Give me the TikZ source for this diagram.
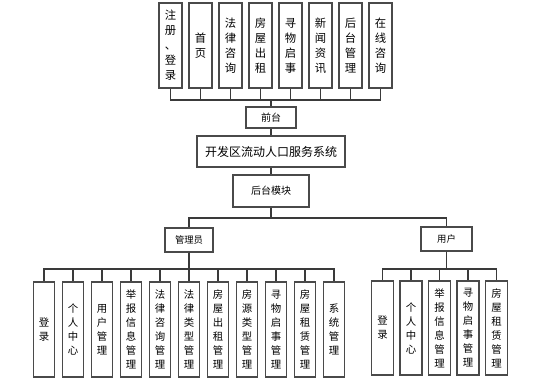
\documentclass[tikz,border=0pt]{standalone}
\usepackage{fontspec}
\setmainfont{Noto Sans CJK SC}
\definecolor{boxEdge}{HTML}{4A4A4A}
\definecolor{lineGray}{HTML}{3A3A3A}
\tikzset{
  topcol/.style={rectangle,draw=boxEdge,fill=white,line width=0.9pt,inner sep=0pt,
    minimum width=17.25pt,minimum height=63.75pt,align=center,font=\fontsize{8.5}{11.25}\selectfont},
  mgrcol/.style={rectangle,draw=boxEdge,fill=white,line width=0.9pt,inner sep=0pt,
    minimum width=15.75pt,minimum height=71.25pt,align=center,font=\fontsize{7.8}{10.5}\selectfont},
  usercol/.style={mgrcol,minimum width=16.5pt,minimum height=70.5pt},
  midbox/.style={rectangle,draw=boxEdge,fill=white,line width=0.9pt,inner sep=0pt,
    align=center,font=\fontsize{7.5}{9}\selectfont},
  link/.style={draw=lineGray,line width=0.8pt}
}

\begin{document}
\begin{tikzpicture}[x=0.75pt,y=-0.75pt]
  \useasboundingbox (0,0) rectangle (553,380);
  % front end pages
  \node[topcol] (reg) at (170.5,45.5) {注\\册\\、\\登\\录};
  \node[topcol] (home) at (200.5,45.5) {首\\页};
  \node[topcol] (law) at (230.5,45.5) {法\\律\\咨\\询};
  \node[topcol] (rent) at (260.5,45.5) {房\\屋\\出\\租};
  \node[topcol] (lost) at (290.5,45.5) {寻\\物\\启\\事};
  \node[topcol] (news) at (320.5,45.5) {新\\闻\\资\\讯};
  \node[topcol] (backend) at (350.5,45.5) {后\\台\\管\\理};
  \node[topcol] (online) at (380.5,45.5) {在\\线\\咨\\询};
  \coordinate (topbus) at (271,100);
  % middle column
  \node[midbox,minimum width=37.5pt,minimum height=15.75pt] (front) at (271,117.5) {前台};
  \node[midbox,minimum width=111pt,minimum height=23.25pt,font=\fontsize{9}{11}\selectfont] (sys) at (271,151.5) {开发区流动人口服务系统};
  \node[midbox,minimum width=57pt,minimum height=24pt] (back) at (271,191) {后台模块};
  \coordinate (rolebus) at (271,218);
  \node[midbox,minimum width=36pt,minimum height=18pt,font=\fontsize{7}{9}\selectfont] (mgr) at (189,240) {管理员};
  \node[midbox,minimum width=38.25pt,minimum height=18pt,font=\fontsize{7}{9}\selectfont] (user) at (446.5,239) {用户};
  \coordinate (mgrbus) at (189,269);
  \coordinate (userbus) at (446.5,269);
  % admin functions
  \node[mgrcol] (mLogin) at (44,329.5) {登\\录};
  \node[mgrcol] (mSelf) at (73,329.5) {个\\人\\中\\心};
  \node[mgrcol] (mUser) at (102,329.5) {用\\户\\管\\理};
  \node[mgrcol] (mReport) at (131,329.5) {举\\报\\信\\息\\管\\理};
  \node[mgrcol] (mLaw) at (160,329.5) {法\\律\\咨\\询\\管\\理};
  \node[mgrcol] (mLawType) at (189,329.5) {法\\律\\类\\型\\管\\理};
  \node[mgrcol] (mRent) at (218,329.5) {房\\屋\\出\\租\\管\\理};
  \node[mgrcol] (mHouseType) at (247,329.5) {房\\源\\类\\型\\管\\理};
  \node[mgrcol] (mLost) at (276,329.5) {寻\\物\\启\\事\\管\\理};
  \node[mgrcol] (mLease) at (305,329.5) {房\\屋\\租\\赁\\管\\理};
  \node[mgrcol] (mSys) at (334,329.5) {系\\统\\管\\理};
  % user functions
  \node[usercol] (uLogin) at (382.5,328) {登\\录};
  \node[usercol] (uSelf) at (411,328) {个\\人\\中\\心};
  \node[usercol] (uReport) at (439.5,328) {举\\报\\信\\息\\管\\理};
  \node[usercol] (uLost) at (468,328) {寻\\物\\启\\事\\管\\理};
  \node[usercol] (uLease) at (496.5,328) {房\\屋\\租\\赁\\管\\理};
  % connectors
  \draw[link] (reg.south) -- (reg.south |- topbus) -| (front.north);
  \draw[link] (home.south) -- (home.south |- topbus) -| (front.north);
  \draw[link] (law.south) -- (law.south |- topbus) -| (front.north);
  \draw[link] (rent.south) -- (rent.south |- topbus) -| (front.north);
  \draw[link] (lost.south) -- (lost.south |- topbus) -| (front.north);
  \draw[link] (news.south) -- (news.south |- topbus) -| (front.north);
  \draw[link] (backend.south) -- (backend.south |- topbus) -| (front.north);
  \draw[link] (online.south) -- (online.south |- topbus) -| (front.north);
  \draw[link] (front) -- (sys);
  \draw[link] (sys) -- (back);
  \draw[link] (back.south) -- (rolebus) -| (mgr.north);
  \draw[link] (back.south) -- (rolebus) -| (user.north);
  \draw[link] (mgr.south) -- (mgrbus) -| (mLogin.north);
  \draw[link] (mgr.south) -- (mgrbus) -| (mSelf.north);
  \draw[link] (mgr.south) -- (mgrbus) -| (mUser.north);
  \draw[link] (mgr.south) -- (mgrbus) -| (mReport.north);
  \draw[link] (mgr.south) -- (mgrbus) -| (mLaw.north);
  \draw[link] (mgr.south) -- (mLawType.north);
  \draw[link] (mgr.south) -- (mgrbus) -| (mRent.north);
  \draw[link] (mgr.south) -- (mgrbus) -| (mHouseType.north);
  \draw[link] (mgr.south) -- (mgrbus) -| (mLost.north);
  \draw[link] (mgr.south) -- (mgrbus) -| (mLease.north);
  \draw[link] (mgr.south) -- (mgrbus) -| (mSys.north);
  \draw[link] (user.south) -- (userbus) -| (uLogin.north);
  \draw[link] (user.south) -- (userbus) -| (uSelf.north);
  \draw[link] (user.south) -- (userbus) -| (uReport.north);
  \draw[link] (user.south) -- (userbus) -| (uLost.north);
  \draw[link] (user.south) -- (userbus) -| (uLease.north);
\end{tikzpicture}
\end{document}
